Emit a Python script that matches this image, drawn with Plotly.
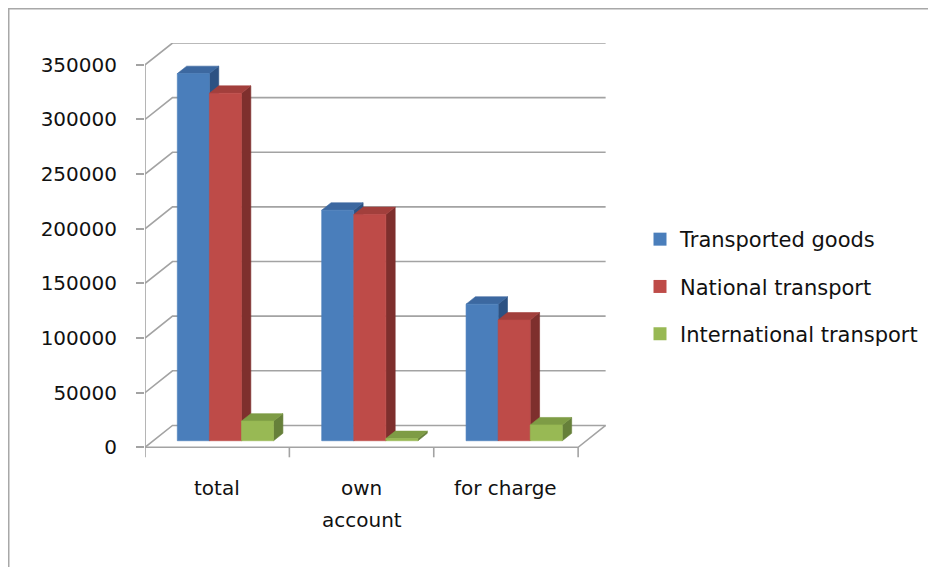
import plotly.graph_objects as go

# ---------------- data ----------------
categories = ["total", "own", "for charge"]
category_second_line = ["", "account", ""]
series_names = ["Transported goods", "National transport", "International transport"]
transported_goods = [336000, 211000, 125000]
national_transport = [318000, 207000, 110500]
international_transport = [18000, 2000, 14500]
y_ticks = [0, 50000, 100000, 150000, 200000, 250000, 300000, 350000]

series_values = [transported_goods, national_transport, international_transport]
front_colors = ["#4a7ebb", "#be4b48", "#98b954"]
top_colors = ["#3c68a0", "#a23f3c", "#7e9c45"]
side_colors = ["#2d5283", "#7e2f2d", "#66803a"]

# ---------------- geometry (oblique 3D projection) ----------------
# page body has an 8px margin, so the figure is laid out 8px smaller
W, H = 928, 559
ML, MT = 137, 35
PLOT_W, PLOT_H = 462, 448
MR, MB = W - ML - PLOT_W, H - MT - PLOT_H
X_RANGE = [0, 3.2]
Y_RANGE = [-40000, 370000]
PX_PER_UNIT = PLOT_H / (Y_RANGE[1] - Y_RANGE[0])
PX_PER_CAT = PLOT_W / (X_RANGE[1] - X_RANGE[0])

DX = 27.5 / PX_PER_CAT      # depth offset in category units
DY = 20000                  # depth offset in value units
Y_MAX = 350000
N = len(categories)
GAP = 1.5                   # gap width as fraction of bar width
BW = 1.0 / (len(series_names) + GAP)
F0, F1 = 0.30, 0.64         # front / back depth fractions of bars
TICK_DOWN = 10 / PX_PER_UNIT

GRID = "#a3a3a3"
fig = go.Figure()

def poly(xs, ys, color):
    fig.add_trace(go.Scatter(
        x=xs + [xs[0]], y=ys + [ys[0]], mode="lines", fill="toself",
        fillcolor=color, line=dict(color=color, width=0.6),
        hoverinfo="skip", showlegend=False))

def line(xs, ys):
    fig.add_trace(go.Scatter(
        x=xs, y=ys, mode="lines", line=dict(color=GRID, width=1.6),
        hoverinfo="skip", showlegend=False))

# walls gridlines (side wall diagonal + back wall horizontal)
for v in y_ticks:
    line([0, DX, N + DX], [v, v + DY, v + DY])
# floor front edge and right edge
line([0, N, N + DX], [0, 0, DY])
# front vertical axis line
line([0, 0], [-TICK_DOWN, Y_MAX])
# category separator ticks
for i in range(1, N + 1):
    line([i, i], [0, -TICK_DOWN])

# bars
ox0, oy0 = F0 * DX, F0 * DY
ox1, oy1 = F1 * DX, F1 * DY
for i in range(N):
    for k, vals in enumerate(series_values):
        v = vals[i]
        x0 = i + (GAP / 2) * BW + k * BW
        x1 = x0 + BW
        poly([x1 + ox0, x1 + ox1, x1 + ox1, x1 + ox0],
             [oy0, oy1, v + oy1, v + oy0], side_colors[k])
        poly([x0 + ox0, x1 + ox0, x1 + ox1, x0 + ox1],
             [v + oy0, v + oy0, v + oy1, v + oy1], top_colors[k])
        poly([x0 + ox0, x1 + ox0, x1 + ox0, x0 + ox0],
             [oy0, oy0, v + oy0, v + oy0], front_colors[k])

# legend entries
for k, name in enumerate(series_names):
    fig.add_trace(go.Scatter(
        x=[None], y=[None], mode="markers", name=name, legendgroup=name,
        marker=dict(symbol="square", size=13, color=front_colors[k], line=dict(width=0))))

def paper_y(py):
    return (MT + PLOT_H - py) / PLOT_H

LABEL_FONT = dict(family="DejaVu Sans", size=20, color="#111111")
LEGEND_FONT = dict(family="DejaVu Sans", size=21, color="#111111")
# category labels
for i, (c, c2) in enumerate(zip(categories, category_second_line)):
    fig.add_annotation(x=i + 0.5, y=paper_y(480), xref="x", yref="paper",
                       text=c, showarrow=False, yanchor="middle", font=LABEL_FONT)
    if c2:
        fig.add_annotation(x=i + 0.5, y=paper_y(512), xref="x", yref="paper",
                           text=c2, showarrow=False, yanchor="middle", font=LABEL_FONT)

# outer border (top & left visible)
fig.add_shape(type="rect", xref="paper", yref="paper",
              x0=(0.5 - ML) / PLOT_W, x1=(W + 20 - ML) / PLOT_W,
              y0=paper_y(H + 20), y1=paper_y(0.5),
              line=dict(color="#a8a8a8", width=2), layer="below")

fig.update_layout(
    width=W, height=H,
    margin=dict(l=ML, r=MR, t=MT, b=MB, pad=0),
    paper_bgcolor="white", plot_bgcolor="rgba(0,0,0,0)",
    font=LABEL_FONT,
    xaxis=dict(range=X_RANGE, visible=False, fixedrange=True),
    yaxis=dict(range=Y_RANGE, tickvals=y_ticks, ticktext=[str(t) for t in y_ticks],
               showgrid=False, zeroline=False, showline=False,
               ticks="outside", ticklen=8, tickwidth=1.6, tickcolor=GRID,
               ticklabelstandoff=15, fixedrange=True, tickfont=LABEL_FONT),
    legend=dict(x=(632 - ML) / PLOT_W, xanchor="left",
                y=paper_y(211), yanchor="top", font=LEGEND_FONT,
                tracegroupgap=17, bgcolor="rgba(0,0,0,0)"),
    showlegend=True,
)

fig.write_html("out.html")
